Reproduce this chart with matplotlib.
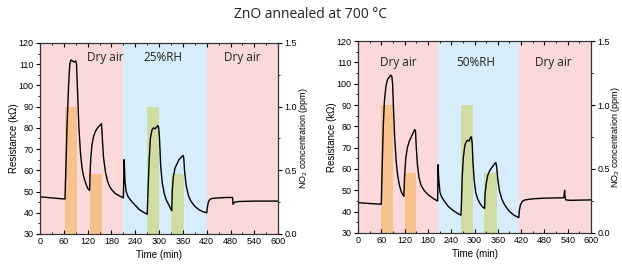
import matplotlib
matplotlib.use('Agg')
import matplotlib.pyplot as plt
from matplotlib.ticker import MultipleLocator

# ---- data ----
# left panel: 25%RH
t_a = [0, 30, 60, 63, 65, 68, 72, 75, 78, 82, 86, 90, 92, 95, 98, 102, 106, 110, 115, 120, 125,
       126, 128, 131, 135, 140, 145, 150, 155, 157, 160, 165, 170, 175, 180, 190, 200, 210,
       212, 214, 217, 222, 230, 240, 250, 260, 270, 272, 275, 278, 282, 286, 290, 294, 297, 299,
       301, 304, 308, 313, 318, 325, 330, 332, 333, 336, 340, 345, 350, 355, 360, 362, 364, 368,
       374, 380, 390, 400, 410, 420, 421, 424, 428, 435, 450, 470, 485, 486, 490, 500, 540, 600]
r_a = [47.5, 47, 46.5, 46.5, 60, 80, 100, 110, 112, 111.5, 111, 111.5, 110, 95, 80, 68, 61, 57, 54, 51.5, 50.5,
       58, 66, 72, 76, 78.5, 80, 81, 82, 75, 66, 59, 55, 52.5, 51, 49, 48, 47,
       65, 55, 50, 47.5, 45.5, 43.5, 41.5, 40.3, 39.3, 50, 65, 75, 79, 80, 79.5, 80.5, 81, 80,
       75, 62, 54, 49, 46, 43.5, 41.5, 41, 50, 57, 61, 63, 65, 66, 67, 66, 60, 53,
       48, 45.5, 43, 41.5, 40.5, 40, 42, 45, 46.3, 46.8, 47, 47.2, 47.2, 44, 45, 45.3, 45.5, 45.5]

# right panel: 50%RH
t_b = [0, 30, 58, 60, 62, 65, 68, 72, 76, 80, 84, 87, 89, 91, 94, 98, 102, 107, 112, 117, 118,
       120, 123, 127, 132, 137, 142, 146, 148, 150, 153, 157, 162, 170, 180, 195, 205,
       206, 208, 211, 215, 222, 232, 245, 258, 265, 266, 268, 271, 275, 279, 283, 286, 290, 292,
       294, 296, 299, 303, 308, 315, 322, 326, 327, 330, 334, 340, 346, 352, 355, 357, 360, 364,
       370, 378, 388, 400, 410, 414, 415, 418, 423, 430, 450, 480, 530, 532, 533, 535, 545, 600]
r_b = [44.2, 43.8, 43.5, 43.5, 60, 80, 92, 99, 102, 103, 104, 103.5, 100, 90, 76, 64, 57, 52, 49, 47.5, 47.2,
       57, 65, 70, 73, 75, 77, 78.5, 78, 70, 62, 56, 52.5, 50, 48, 46, 45,
       62, 55, 49, 47, 45, 42.5, 40.5, 39, 38.3, 42, 55, 65, 71, 73, 73.5, 73, 75, 75,
       72, 63, 55, 49, 46, 43.5, 42, 41.5, 48, 53, 57, 59.5, 61, 62.5, 63, 61, 55, 50,
       46, 43, 40.5, 38.5, 37.5, 37.2, 40, 43, 44.8, 45.5, 46, 46.3, 46.5, 50, 47, 45.5, 45.3, 45.5]

# background zones (start, end) and NO2 pulses (start, end, ppm)
zones_a = [(0, 210), (210, 420), (420, 600)]
zones_b = [(0, 205), (205, 415), (415, 600)]
zone_kind = ['dry', 'hum', 'dry']
labels_a = ['Dry air', '25%RH', 'Dry air']
labels_b = ['Dry air', '50%RH', 'Dry air']
label_x_a = [164, 310, 510]
label_x_b = [105, 304, 502]
pulses_a = [(63, 93, 1.0), (125, 155, 0.47), (270, 300, 1.0), (330, 362, 0.47)]
pulses_b = [(60, 90, 1.0), (120, 150, 0.47), (265, 295, 1.0), (325, 357, 0.47)]
pulse_kind = ['dry', 'dry', 'hum', 'hum']

zone_col = {'dry': '#fbd9da', 'hum': '#d7edfb'}
pulse_col = {'dry': '#f8c28f', 'hum': '#d0dda2'}

plt.rcParams['font.family'] = ['Liberation Sans', 'DejaVu Sans']

fig = plt.figure(figsize=(6.22, 2.65), dpi=100)
fig.text(0.5, 0.945, 'ZnO annealed at 700 °C', ha='center', va='center',
         fontsize=10, family=['Open Sans', 'DejaVu Sans'], color='#222222')


def panel(rect, t, r, zones, labels, label_x, label_y, pulses, right_lab_x):
    ax = fig.add_axes(rect)
    ax2 = ax.twinx()
    ax.set_zorder(ax2.get_zorder() + 1)
    ax.patch.set_visible(False)
    for (s, e), k in zip(zones, zone_kind):
        ax2.axvspan(s, e, color=zone_col[k], lw=0, zorder=0)
    for txt, x in zip(labels, label_x):
        ax.text(x, label_y, txt, ha='center', va='center', fontsize=8.5,
                family=['Open Sans', 'DejaVu Sans'], color='#222222')
    for (s, e, c), k in zip(pulses, pulse_kind):
        ax2.bar(s, c, width=e - s, align='edge', color=pulse_col[k], lw=0, zorder=1)
    ax.plot(t, r, color='black', lw=1.0)
    ax.set_xlim(0, 600)
    ax.set_ylim(30, 120)
    ax2.set_ylim(0, 1.5)
    ax.xaxis.set_major_locator(MultipleLocator(60))
    ax.xaxis.set_minor_locator(MultipleLocator(30))
    ax.yaxis.set_major_locator(MultipleLocator(10))
    ax.yaxis.set_minor_locator(MultipleLocator(5))
    ax2.yaxis.set_major_locator(MultipleLocator(0.5))
    ax2.yaxis.set_minor_locator(MultipleLocator(0.25))
    ax.tick_params(axis='x', which='both', direction='in', top=True, labelsize=6.5, pad=2)
    ax.tick_params(axis='x', which='major', length=3)
    ax.tick_params(axis='x', which='minor', length=1.5)
    ax.tick_params(axis='y', which='both', direction='out', labelsize=6.5, pad=1.5)
    ax.tick_params(axis='y', which='major', length=3)
    ax.tick_params(axis='y', which='minor', length=1.5)
    ax2.tick_params(axis='y', which='both', direction='out', labelsize=6.5, pad=1.5)
    ax2.tick_params(axis='y', which='major', length=3)
    ax2.tick_params(axis='y', which='minor', length=1.5)
    ax.set_xlabel('Time (min)', fontsize=7, labelpad=3)
    ax.set_ylabel('Resistance (k\u03a9)', fontsize=7)
    ax2.set_ylabel('NO$_2$ concentration (ppm)', fontsize=6.5)
    ax.yaxis.set_label_coords(-0.11, 0.5)
    ax2.yaxis.set_label_coords(right_lab_x, 0.5)
    ax2.yaxis.label.set_va('center')
    ax.yaxis.label.set_va('center')
    for a in (ax, ax2):
        for sp in a.spines.values():
            sp.set_linewidth(0.8)
            sp.set_color('#333333')
    return ax


panel([0.0643, 0.117, 0.383, 0.721], t_a, r_a, zones_a, labels_a, label_x_a, 113, pulses_a, 1.105)
panel([0.5756, 0.121, 0.3746, 0.724], t_b, r_b, zones_b, labels_b, label_x_b, 110, pulses_b, 1.104)

fig.savefig('out.png', dpi=100)
